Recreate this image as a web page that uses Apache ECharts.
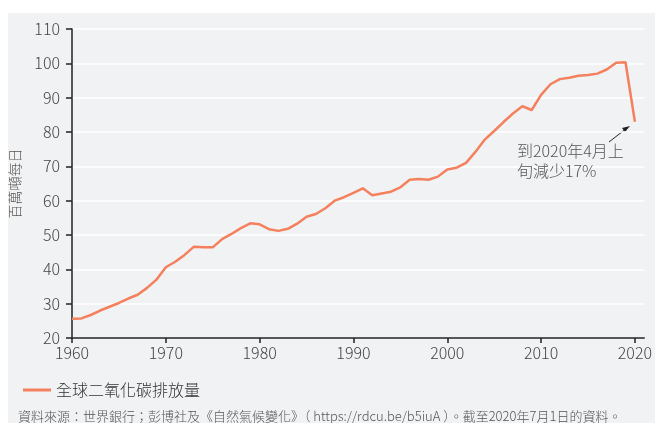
<!DOCTYPE html>
<html>
<head>
<meta charset="utf-8">
<script src="https://cdn.jsdelivr.net/npm/echarts@6/dist/echarts.min.js"></script>
<style>
  html, body { margin: 0; padding: 0; background: #fff; }
  #chart { width: 655px; height: 423px; }
</style>
</head>
<body>
<div id="chart"></div>
<script>
// 年份與每日排放量（百萬噸）
const years = [
  1960, 1961, 1962, 1963, 1964, 1965, 1966, 1967, 1968, 1969,
  1970, 1971, 1972, 1973, 1974, 1975, 1976, 1977, 1978, 1979,
  1980, 1981, 1982, 1983, 1984, 1985, 1986, 1987, 1988, 1989,
  1990, 1991, 1992, 1993, 1994, 1995, 1996, 1997, 1998, 1999,
  2000, 2001, 2002, 2003, 2004, 2005, 2006, 2007, 2008, 2009,
  2010, 2011, 2012, 2013, 2014, 2015, 2016, 2017, 2018, 2019, 2020
];
const emissions = [
  25.6, 25.7, 26.7, 28.0, 29.1, 30.2, 31.5, 32.6, 34.6, 37.0,
  40.6, 42.2, 44.2, 46.6, 46.4, 46.4, 48.8, 50.3, 52.0, 53.4,
  53.1, 51.7, 51.2, 51.8, 53.3, 55.3, 56.1, 57.8, 60.0, 61.0,
  62.3, 63.6, 61.6, 62.1, 62.6, 63.9, 66.1, 66.3, 66.1, 67.0,
  69.1, 69.6, 71.0, 74.2, 77.8, 80.3, 82.9, 85.4, 87.5, 86.4,
  90.8, 93.9, 95.4, 95.8, 96.4, 96.6, 97.0, 98.2, 100.2, 100.3, 83.0
];
const seriesName = '全球二氧化碳排放量';
const yAxisName = '百萬噸每日';
const noteLines = ['到2020年4月上', '旬減少17%'];
const sourceText = '資料來源：世界銀行；彭博社及《自然氣候變化》（ https://rdcu.be/b5iuA ）。截至2020年7月1日的資料。';

const lineColor = '#f4805e';
const textColor = '#555';
const font = '"Noto Sans CJK TC", "Noto Sans", sans-serif';

const chart = echarts.init(document.getElementById('chart'), null, { renderer: 'canvas' });

const option = {
  backgroundColor: '#fff',
  animation: false,
  textStyle: { fontFamily: font, fontWeight: 300 },
  grid: { left: 71, right: 10, top: 29, bottom: 85 },
  xAxis: {
    type: 'value',
    min: 1960,
    max: 2021,
    interval: 10,
    axisLine: { show: true, lineStyle: { color: '#222', width: 1.5 } },
    axisTick: { show: true, length: 5, lineStyle: { color: '#222', width: 1.5 } },
    axisLabel: {
      color: '#444', fontSize: 16, fontWeight: 300, margin: 7, showMaxLabel: false,
      formatter: v => String(v)
    },
    splitLine: { show: false }
  },
  yAxis: {
    type: 'value',
    min: 20,
    max: 110,
    interval: 10,
    name: yAxisName,
    nameLocation: 'middle',
    nameGap: 50,
    nameRotate: 90,
    nameTextStyle: { color: textColor, fontSize: 14, fontWeight: 300 },
    axisLine: { show: true, lineStyle: { color: '#222', width: 1.5 } },
    axisTick: { show: true, length: 6, lineStyle: { color: '#222', width: 1.5 } },
    axisLabel: { color: '#444', fontSize: 16, fontWeight: 300, margin: 12 },
    splitLine: { show: true, lineStyle: { color: '#fff', width: 1.5 } }
  },
  legend: {
    show: true,
    left: 18,
    top: 377,
    itemWidth: 28,
    itemHeight: 3,
    icon: 'rect',
    itemGap: 6,
    textStyle: { color: '#333', fontSize: 16, fontWeight: 300, fontFamily: font },
    data: [seriesName]
  },
  graphic: [
    {
      type: 'rect',
      silent: true,
      z: -10,
      shape: { x: 8, y: 13, width: 660, height: 420 },
      style: { fill: '#f1f2f4' }
    },
    {
      type: 'text',
      left: 517,
      top: 143,
      z: 10,
      style: { text: noteLines[0], fill: textColor, font: '300 16px ' + font }
    },
    {
      type: 'text',
      left: 517,
      top: 163,
      z: 10,
      style: { text: noteLines[1], fill: textColor, font: '300 16px ' + font }
    },
    {
      type: 'line',
      shape: { x1: 609, y1: 142, x2: 627, y2: 128 },
      style: { stroke: '#222', lineWidth: 1 }
    },
    {
      type: 'polygon',
      shape: { points: [[630, 126], [622, 128], [625, 132]] },
      style: { fill: '#222' }
    },
    {
      type: 'text',
      left: 18,
      top: 410,
      style: {
        text: sourceText,
        fill: textColor,
        font: '300 13px ' + font
      }
    }
  ],
  series: [
    {
      name: seriesName,
      type: 'line',
      data: years.map((y, i) => [y, emissions[i]]),
      showSymbol: false,
      symbol: 'none',
      lineStyle: { color: lineColor, width: 2.5 },
      itemStyle: { color: lineColor }
    }
  ]
};

chart.setOption(option);
</script>
</body>
</html>
